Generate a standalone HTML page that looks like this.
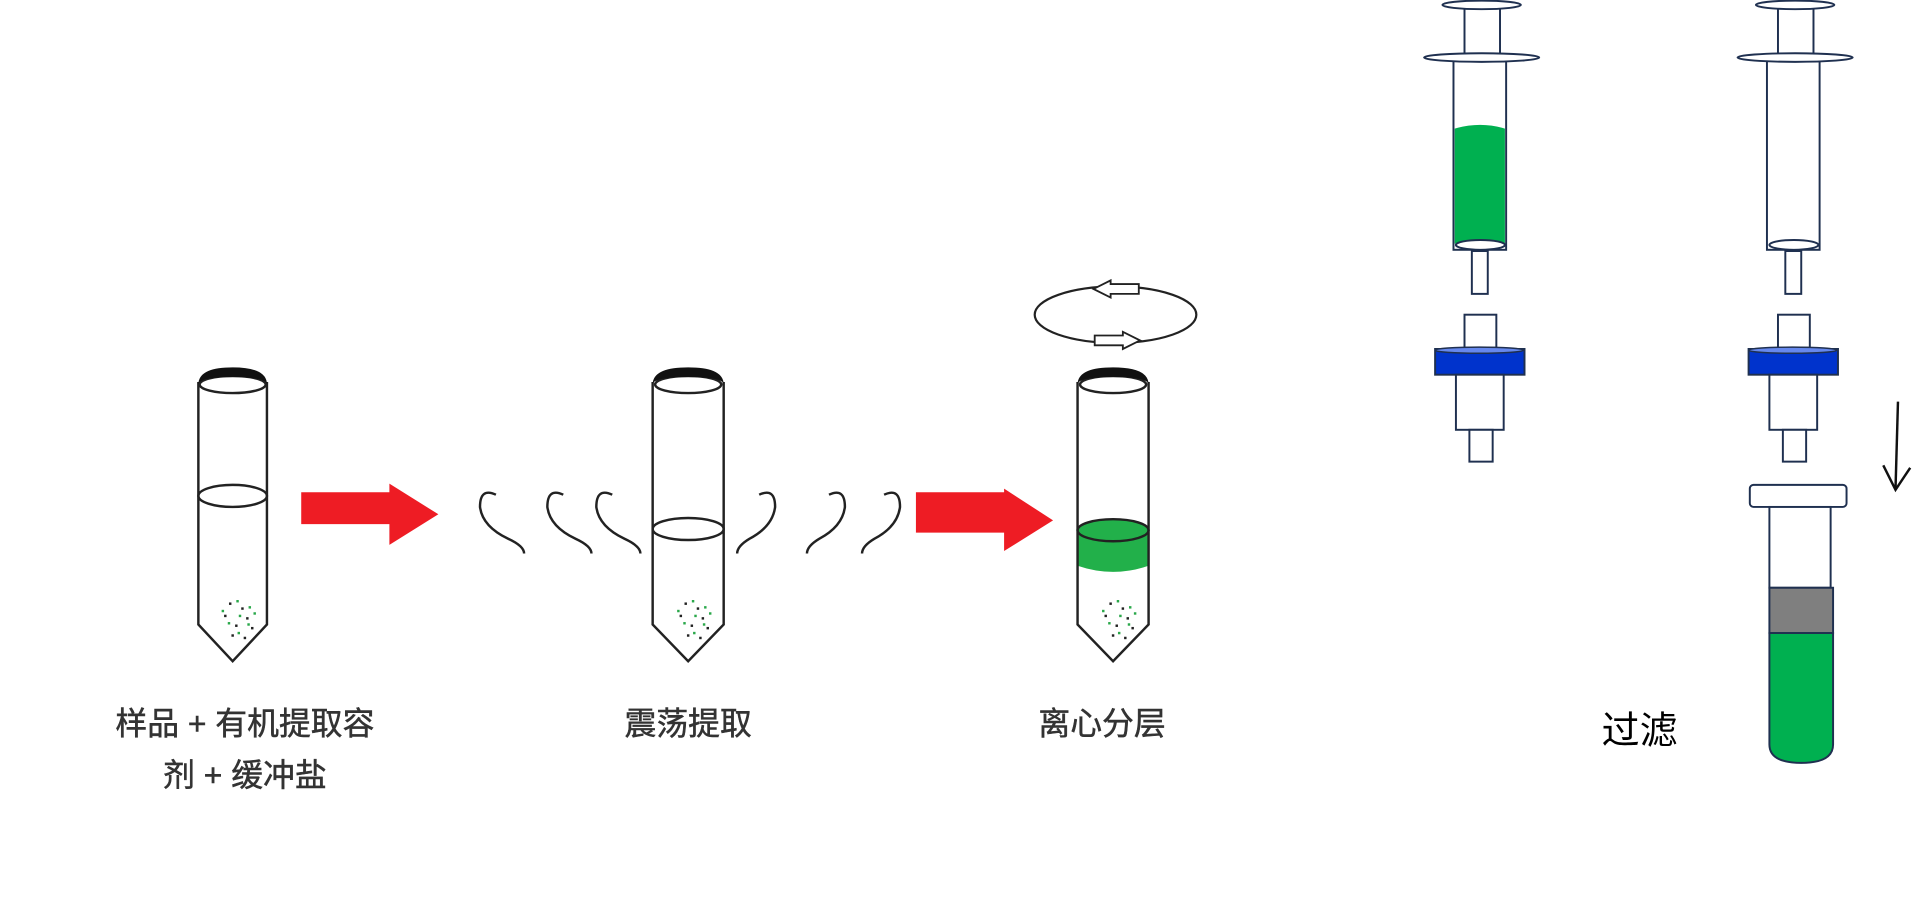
<!DOCTYPE html>
<html><head><meta charset="utf-8"><style>
html,body{margin:0;padding:0;background:#fff;width:1920px;height:908px;overflow:hidden}
svg{display:block}
text{font-family:"Liberation Sans","Noto Sans CJK SC",sans-serif}
</style></head><body>
<svg width="1920" height="908" viewBox="0 0 1920 908" xmlns="http://www.w3.org/2000/svg">
<defs>
<g id="parts">
<g fill="#222"><rect x="-8" y="0" width="2" height="2"/><rect x="2" y="4" width="2" height="2"/><rect x="-12" y="10" width="2" height="2"/><rect x="6" y="12" width="2" height="2"/><rect x="-3" y="18" width="2" height="2"/><rect x="10" y="20" width="2" height="2"/><rect x="-6" y="26" width="2" height="2"/><rect x="4" y="28" width="2" height="2"/></g>
<g fill="#2aa84a"><rect x="-2" y="-2" width="2" height="2"/><rect x="8" y="3" width="2" height="2"/><rect x="-14" y="6" width="2" height="2"/><rect x="0" y="10" width="2" height="2"/><rect x="12" y="8" width="2" height="2"/><rect x="-9" y="16" width="2" height="2"/><rect x="7" y="17" width="2" height="2"/><rect x="-1" y="24" width="2" height="2"/></g>
</g>
</defs>
<g transform="scale(1.2245)">
<!-- tube 1 -->
<g fill="none" stroke="#222" stroke-width="2">
<path d="M162 312 V510 L190 540 L218 510 V312"/>
<ellipse cx="190" cy="405" rx="28" ry="9"/>
<ellipse cx="190" cy="314" rx="27" ry="7"/>
</g>
<path d="M162 314 Q162 300 190 300 Q218 300 218 314 Q218 308 190 308 Q162 308 162 314Z" fill="#111"/>
<use href="#parts" x="195" y="492"/>
<!-- tube 2 -->
<g fill="none" stroke="#222" stroke-width="2">
<path d="M533 312 V510 L562 540 L591 510 V312"/>
<ellipse cx="562" cy="432" rx="29" ry="9"/>
<ellipse cx="562" cy="314" rx="27" ry="7"/>
</g>
<path d="M533 314 Q533 300 562 300 Q591 300 591 314 Q591 308 562 308 Q533 308 533 314Z" fill="#111"/>
<use href="#parts" x="567" y="492"/>
<!-- tube 3 -->
<path d="M880 433 V462 Q909 472 938 462 V433Z" fill="#22b04a"/>
<ellipse cx="909" cy="433" rx="29" ry="9" fill="#22b04a" stroke="#222" stroke-width="2"/>
<g fill="none" stroke="#222" stroke-width="2">
<path d="M880 312 V510 L909 540 L938 510 V312"/>
<ellipse cx="909" cy="314" rx="27" ry="7"/>
</g>
<path d="M880 314 Q880 300 909 300 Q938 300 938 314 Q938 308 909 308 Q880 308 880 314Z" fill="#111"/>
<use href="#parts" x="914" y="492"/>
<!-- arrows -->
<path d="M246 402 H318 V395 L358 420 L318 445 V428 H246Z" fill="#ee1c24"/>
<path d="M748 402 H820 V399 L860 425 L820 450 V435 H748Z" fill="#ee1c24"/>
<!-- squiggles -->
<g fill="none" stroke="#222" stroke-width="2">
<path d="M405 404 Q392 398 392 414 Q394 430 415 440 Q428 446 428 452"/>
<path d="M460 404 Q447 398 447 414 Q449 430 470 440 Q483 446 483 452"/>
<path d="M500 404 Q487 398 487 414 Q489 430 510 440 Q523 446 523 452"/>
<path d="M620 404 Q633 398 633 414 Q631 430 612 440 Q602 446 602 452"/>
<path d="M677 404 Q690 398 690 414 Q688 430 669 440 Q659 446 659 452"/>
<path d="M722 404 Q735 398 735 414 Q733 430 714 440 Q704 446 704 452"/>
</g>
<!-- labels -->
<g fill="#333" font-size="26" text-anchor="middle" stroke="#333" stroke-width="0.4">
<text x="200" y="600">样品 + 有机提取容</text>
<text x="200" y="642">剂 + 缓冲盐</text>
<text x="562" y="600">震荡提取</text>
<text x="900" y="600">离心分层</text>
</g>
<!-- rotation ellipse -->
<ellipse cx="911" cy="257" rx="66" ry="23" fill="none" stroke="#222" stroke-width="1.8"/>
<path d="M930 232 H907 V229 L893 236 L907 243 V240 H930Z" fill="#fff" stroke="#222" stroke-width="1.5"/>
<path d="M894 274 H917 V271 L931 278 L917 285 V282 H894Z" fill="#fff" stroke="#222" stroke-width="1.5"/>
<!-- syringes -->
<g id="syr" stroke="#1f3050" stroke-width="1.6">
<rect x="1196" y="5" width="29" height="42" fill="#fff"/>
<ellipse cx="1210" cy="4" rx="32" ry="3.5" fill="#fff"/>
<rect x="1187" y="48" width="43" height="156" fill="#fff"/>
<ellipse cx="1210" cy="47" rx="47" ry="3.5" fill="#fff"/>
<rect x="1202" y="205" width="13" height="35" fill="#fff"/>
<ellipse cx="1209" cy="200" rx="20" ry="4" fill="#fff"/>
<rect x="1196" y="257" width="26" height="27" fill="#fff"/>
<rect x="1172" y="285" width="73" height="21" fill="#0033cc"/>
<ellipse cx="1208" cy="286" rx="36" ry="2.5" fill="#6688ee" stroke-width="1.2"/>
<rect x="1189" y="306" width="39" height="45" fill="#fff"/>
<rect x="1200" y="351" width="19" height="26" fill="#fff"/>
</g>
<path d="M1188 105 Q1209 99 1229 105 V199 Q1209 195 1188 199Z" fill="#00b050"/>
<ellipse cx="1209" cy="200" rx="20" ry="4" fill="#fff" stroke="#1f3050" stroke-width="1.6"/>
<use href="#syr" x="256"/>
<!-- vial -->
<g stroke="#1f3050" stroke-width="1.6">
<rect x="1429" y="396" width="79" height="18" rx="3" fill="#fff"/>
<rect x="1445" y="414" width="50" height="66" fill="#fff"/>
<rect x="1445" y="480" width="52" height="37" fill="#7f7f7f"/>
<path d="M1445 517 H1497 V608 Q1497 623 1471 623 Q1445 623 1445 608Z" fill="#00b050"/>
</g>
<!-- down arrow -->
<g stroke="#111" stroke-width="2" fill="none"><path d="M1550 328 L1548 399"/><path d="M1538 380 L1548 400 L1560 382"/></g>
<text x="1308" y="607" font-size="31" fill="#000">过滤</text>
</g>
</svg>
</body></html>
